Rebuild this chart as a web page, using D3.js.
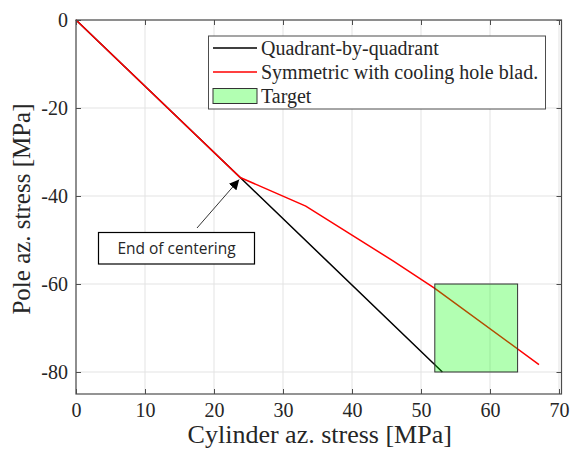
<!DOCTYPE html>
<html>
<head>
<meta charset="utf-8">
<script src="https://cdn.jsdelivr.net/npm/d3@7"></script>
<style>
  body { margin: 0; background: #fff; }
  text { font-family: "Liberation Serif", "DejaVu Serif", serif; fill: #262626; }
</style>
</head>
<body>
<svg id="chart"></svg>
<script>
// data
var quadX = [0, 23.8, 53.1];
var quadY = [0, -35.8, -80];
var symX = [0, 23.8, 33.3, 46, 52, 67.1];
var symY = [0, -35.8, -42.3, -54.8, -61, -78.3];
var targetX = [52, 64];
var targetY = [-80, -60];
var xTicks = [0, 10, 20, 30, 40, 50, 60, 70];
var yTicks = [0, -20, -40, -60, -80];
var legendNames = ['Quadrant-by-quadrant', 'Symmetric with cooling hole blad.', 'Target'];

var W = 572, H = 450;
var svg = d3.select('#chart').attr('width', W).attr('height', H);

var x = d3.scaleLinear().domain([0, 70]).range([76, 559]);
var y = d3.scaleLinear().domain([-85, 0]).range([394, 20]);
var x0 = 76, x1 = 561.5, y0 = 20, y1 = 394;
var fmt = d => String(d);

// grid
svg.append('g').selectAll('line').data(xTicks).enter().append('line')
    .attr('x1', d => x(d)).attr('x2', d => x(d)).attr('y1', y0).attr('y2', y1)
    .attr('stroke', '#e3e3e3').attr('stroke-width', 1);
svg.append('g').selectAll('line').data(yTicks).enter().append('line')
    .attr('x1', x0).attr('x2', x1).attr('y1', d => y(d)).attr('y2', d => y(d))
    .attr('stroke', '#e3e3e3').attr('stroke-width', 1);

var line = d3.line().x(d => x(d[0])).y(d => y(d[1]));
svg.append('path').datum(d3.zip(quadX, quadY)).attr('d', line)
    .attr('fill', 'none').attr('stroke', '#000').attr('stroke-width', 1.5);
svg.append('path').datum(d3.zip(symX, symY)).attr('d', line)
    .attr('fill', 'none').attr('stroke', '#ff0000').attr('stroke-width', 1.5);

// target box drawn on top, semi transparent
svg.append('rect')
    .attr('x', x(targetX[0])).attr('y', y(targetY[1]))
    .attr('width', x(targetX[1]) - x(targetX[0])).attr('height', y(targetY[0]) - y(targetY[1]))
    .attr('fill', '#00ff00').attr('fill-opacity', 0.3)
    .attr('stroke', '#333').attr('stroke-width', 1);

// axes with inward ticks on all sides
var frame = '#4d4d4d';
svg.append('g').attr('transform', 'translate(0,' + y1 + ')')
    .call(d3.axisBottom(x).tickValues(xTicks).tickFormat(fmt).tickSize(-5).tickPadding(9))
    .call(g => g.select('.domain').remove());
svg.append('g').attr('transform', 'translate(0,' + y0 + ')')
    .call(d3.axisTop(x).tickValues(xTicks).tickSize(-5).tickFormat(''))
    .call(g => g.select('.domain').remove());
svg.append('g').attr('transform', 'translate(' + x0 + ',0)')
    .call(d3.axisLeft(y).tickValues(yTicks).tickFormat(fmt).tickSize(-5).tickPadding(8))
    .call(g => g.select('.domain').remove());
svg.append('g').attr('transform', 'translate(' + x1 + ',0)')
    .call(d3.axisRight(y).tickValues(yTicks).tickSize(-5).tickFormat(''))
    .call(g => g.select('.domain').remove());
svg.selectAll('.tick').each(function () { d3.select(this.parentNode).attr('font-family', '"Liberation Serif", serif').attr('font-size', 20); });
svg.selectAll('.tick line').attr('stroke', frame);
svg.selectAll('.tick text').style('font-family', '"Liberation Serif", serif')
    .style('font-size', '20px').attr('fill', '#262626');
svg.append('rect').attr('x', x0).attr('y', y0).attr('width', x1 - x0).attr('height', y1 - y0)
    .attr('fill', 'none').attr('stroke', frame).attr('stroke-width', 1.2);

// axis labels
svg.append('text').attr('x', (x0 + x1) / 2 + 1).attr('y', 443).attr('text-anchor', 'middle')
    .style('font-size', '26px').text('Cylinder az. stress [MPa]');
svg.append('text').attr('transform', 'translate(30,' + ((y0 + y1) / 2 + 2) + ') rotate(-90)')
    .attr('text-anchor', 'middle').style('font-size', '25px').text('Pole az. stress [MPa]');

// legend
var lg = svg.append('g');
lg.append('rect').attr('x', 208.5).attr('y', 36).attr('width', 337).attr('height', 73)
    .attr('fill', '#fff').attr('stroke', frame).attr('stroke-width', 1);
var rowY = [48, 72, 96];
lg.append('line').attr('x1', 213).attr('x2', 257).attr('y1', rowY[0]).attr('y2', rowY[0])
    .attr('stroke', '#000').attr('stroke-width', 1.5);
lg.append('line').attr('x1', 213).attr('x2', 257).attr('y1', rowY[1]).attr('y2', rowY[1])
    .attr('stroke', '#ff0000').attr('stroke-width', 1.5);
lg.append('rect').attr('x', 213).attr('y', rowY[2] - 7.5).attr('width', 44).attr('height', 15)
    .attr('fill', '#00ff00').attr('fill-opacity', 0.3).attr('stroke', '#333');
lg.selectAll('text.lab').data(legendNames).enter().append('text')
    .attr('x', 261).attr('y', (d, i) => rowY[i] + 6.5)
    .style('font-size', '20px').text(d => d);

// annotation
svg.append('defs').append('marker').attr('id', 'head')
    .attr('viewBox', '0 0 10 10').attr('refX', 10).attr('refY', 5)
    .attr('markerWidth', 10).attr('markerHeight', 10).attr('markerUnits', 'userSpaceOnUse')
    .attr('orient', 'auto')
    .append('path').attr('d', 'M0,0 L10,5 L0,10 Z').attr('fill', '#000');
svg.append('line').attr('x1', 197).attr('y1', 228).attr('x2', x(23.8) - 1).attr('y2', y(-35.8) + 2)
    .attr('stroke', '#000').attr('stroke-width', 0.8).attr('marker-end', 'url(#head)');
svg.append('rect').attr('x', 98.5).attr('y', 232.5).attr('width', 156).attr('height', 31.5)
    .attr('fill', '#fff').attr('stroke', '#000').attr('stroke-width', 1.2);
svg.append('text').attr('x', 176.5).attr('y', 254).attr('text-anchor', 'middle')
    .style('font-family', '"Open Sans", sans-serif').style('font-size', '15.5px').attr('fill', '#000')
    .text('End of centering');
</script>
</body>
</html>
